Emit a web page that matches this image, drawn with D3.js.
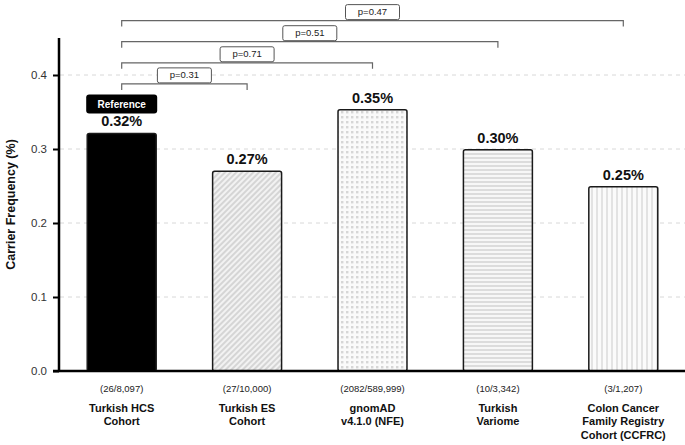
<!DOCTYPE html>
<html>
<head>
<meta charset="utf-8">
<script src="https://cdn.jsdelivr.net/npm/d3@7"></script>
<style>
  body { margin: 0; background: #fff; }
  svg { display: block; font-family: "Liberation Sans", Arial, sans-serif; }
</style>
</head>
<body>
<script>
// data
var categories = [
  ["Turkish HCS", "Cohort"],
  ["Turkish ES", "Cohort"],
  ["gnomAD", "v4.1.0 (NFE)"],
  ["Turkish", "Variome"],
  ["Colon Cancer", "Family Registry", "Cohort (CCFRC)"]
];
var values = [0.321, 0.270, 0.353, 0.299, 0.249];
var valueLabels = ["0.32%", "0.27%", "0.35%", "0.30%", "0.25%"];
var counts = ["(26/8,097)", "(27/10,000)", "(2082/589,999)", "(10/3,342)", "(3/1,207)"];
var patterns = ["solid", "hatch", "dots", "hstripe", "vstripe"];
var compareTo = [1, 2, 3, 4];
var pValues = ["p=0.31", "p=0.71", "p=0.51", "p=0.47"];
var yTicks = [0, 0.1, 0.2, 0.3, 0.4];

var w = 685, h = 445;

var svg = d3.select("body").append("svg")
  .attr("width", w)
  .attr("height", h);

var x = d3.scaleBand()
  .domain(d3.range(categories.length))
  .range([59, 686])
  .paddingInner(0.45)
  .paddingOuter(0.225);

var y = d3.scaleLinear()
  .domain([0, 0.45])
  .range([371, 38]);

// patterns
var defs = svg.append("defs");

var p1 = defs.append("pattern").attr("id", "hatch")
  .attr("patternUnits", "userSpaceOnUse")
  .attr("width", 4).attr("height", 4)
  .attr("patternTransform", "rotate(45)");
p1.append("rect").attr("width", 4).attr("height", 4).attr("fill", "#f2f2f2");
p1.append("line").attr("x1", 1).attr("x2", 1).attr("y1", 0).attr("y2", 4)
  .attr("stroke", "#c2c2c2").attr("stroke-width", 1.2);

var p2 = defs.append("pattern").attr("id", "dots")
  .attr("patternUnits", "userSpaceOnUse")
  .attr("width", 5).attr("height", 5);
p2.append("rect").attr("width", 5).attr("height", 5).attr("fill", "#fafafa");
p2.append("rect").attr("x", 1).attr("y", 1).attr("width", 2.4).attr("height", 2.4).attr("fill", "#d6d6d6");

var p3 = defs.append("pattern").attr("id", "hstripe")
  .attr("patternUnits", "userSpaceOnUse")
  .attr("width", 4).attr("height", 4);
p3.append("rect").attr("width", 4).attr("height", 4).attr("fill", "#f7f7f7");
p3.append("rect").attr("y", 1).attr("width", 4).attr("height", 2).attr("fill", "#dcdcdc");

var p4 = defs.append("pattern").attr("id", "vstripe")
  .attr("patternUnits", "userSpaceOnUse")
  .attr("width", 5).attr("height", 5);
p4.append("rect").attr("width", 5).attr("height", 5).attr("fill", "#fbfbfb");
p4.append("rect").attr("x", 1).attr("width", 2).attr("height", 5).attr("fill", "#e3e3e3");

// gridlines
svg.append("g")
  .selectAll("line")
  .data(yTicks.slice(1))
  .enter()
  .append("line")
  .attr("x1", 60).attr("x2", w)
  .attr("y1", function(d) { return y(d); })
  .attr("y2", function(d) { return y(d); })
  .attr("stroke", "#d8d8d8")
  .attr("stroke-width", 1)
  .attr("stroke-dasharray", "4,4");

// bars
svg.append("g")
  .selectAll("rect")
  .data(values)
  .enter()
  .append("rect")
  .attr("x", function(d, i) { return x(i); })
  .attr("y", function(d) { return y(d); })
  .attr("width", x.bandwidth())
  .attr("height", function(d) { return y(0) - y(d); })
  .attr("rx", 2)
  .attr("fill", function(d, i) {
    return patterns[i] === "solid" ? "#000" : "url(#" + patterns[i] + ")";
  })
  .attr("stroke", "#1a1a1a")
  .attr("stroke-width", 1.5);

// value labels
svg.append("g")
  .selectAll("text")
  .data(values)
  .enter()
  .append("text")
  .text(function(d, i) { return valueLabels[i]; })
  .attr("x", function(d, i) { return x(i) + x.bandwidth() / 2; })
  .attr("y", function(d) { return y(d) - 7; })
  .attr("text-anchor", "middle")
  .attr("font-size", "14.5px")
  .attr("font-weight", "bold")
  .attr("fill", "#111");

// reference badge
var bx = x(0) + x.bandwidth() / 2;
var badgeY = y(values[0]) - 39;
svg.append("rect")
  .attr("x", bx - 35.5).attr("y", badgeY)
  .attr("width", 71).attr("height", 19)
  .attr("rx", 3)
  .attr("fill", "#000");
svg.append("text")
  .text("Reference")
  .attr("x", bx).attr("y", badgeY + 13.5)
  .attr("text-anchor", "middle")
  .attr("font-size", "10px")
  .attr("font-weight", "bold")
  .attr("fill", "#fff");

// axes
var yAxis = svg.append("g")
  .attr("transform", "translate(59,0)")
  .call(d3.axisLeft(y).tickValues(yTicks).tickFormat(d3.format(".1f")).tickSize(6).tickPadding(6));
yAxis.select(".domain").remove();
yAxis.selectAll(".tick line").attr("stroke", "#000").attr("stroke-width", 2);
yAxis.selectAll(".tick text")
  .attr("font-size", "11.5px")
  .attr("font-family", "Liberation Sans, Arial, sans-serif")
  .attr("fill", "#333");

svg.append("line")
  .attr("x1", 59).attr("x2", 59)
  .attr("y1", y(0.45)).attr("y2", y(0) + 1)
  .attr("stroke", "#000").attr("stroke-width", 2.5);
svg.append("line")
  .attr("x1", 53).attr("x2", w)
  .attr("y1", y(0)).attr("y2", y(0))
  .attr("stroke", "#000").attr("stroke-width", 2.5);

svg.append("text")
  .text("Carrier Frequency (%)")
  .attr("transform", "translate(15," + (y(0.225)) + ") rotate(-90)")
  .attr("text-anchor", "middle")
  .attr("font-size", "12.5px")
  .attr("font-weight", "bold")
  .attr("fill", "#111");

// counts and category labels
svg.append("g")
  .selectAll("text")
  .data(counts)
  .enter()
  .append("text")
  .text(function(d) { return d; })
  .attr("x", function(d, i) { return x(i) + x.bandwidth() / 2; })
  .attr("y", 392)
  .attr("text-anchor", "middle")
  .attr("font-size", "9.5px")
  .attr("fill", "#222");

var cat = svg.append("g")
  .selectAll("text")
  .data(categories)
  .enter()
  .append("text")
  .attr("x", function(d, i) { return x(i) + x.bandwidth() / 2; })
  .attr("y", 412)
  .attr("text-anchor", "middle")
  .attr("font-size", "11px")
  .attr("font-weight", "bold")
  .attr("fill", "#111");
cat.selectAll("tspan")
  .data(function(d) { return d; })
  .enter()
  .append("tspan")
  .attr("x", function() { return d3.select(this.parentNode).attr("x"); })
  .attr("dy", function(d, i) { return i === 0 ? 0 : 13.3; })
  .text(function(d) { return d; });

// significance brackets
var cx = function(i) { return x(i) + x.bandwidth() / 2; };
var br = svg.append("g")
  .selectAll("g")
  .data(compareTo)
  .enter()
  .append("g");

br.append("path")
  .attr("d", function(d, k) {
    var ly = y(0.388 + k * 0.0285);
    return "M" + cx(0) + "," + (ly + 6) + "V" + ly + "H" + cx(d) + "V" + (ly + 6);
  })
  .attr("fill", "none")
  .attr("stroke", "#666")
  .attr("stroke-width", 1.2);

br.append("rect")
  .attr("x", function(d) { return (cx(0) + cx(d)) / 2 - 27; })
  .attr("y", function(d, k) { return y(0.388 + k * 0.0285) - 16; })
  .attr("width", 54).attr("height", 15)
  .attr("rx", 2)
  .attr("fill", "#fff")
  .attr("stroke", "#555")
  .attr("stroke-width", 1);

br.append("text")
  .text(function(d, k) { return pValues[k]; })
  .attr("x", function(d) { return (cx(0) + cx(d)) / 2; })
  .attr("y", function(d, k) { return y(0.388 + k * 0.0285) - 5.5; })
  .attr("text-anchor", "middle")
  .attr("font-size", "9.5px")
  .attr("fill", "#222");
</script>
</body>
</html>
